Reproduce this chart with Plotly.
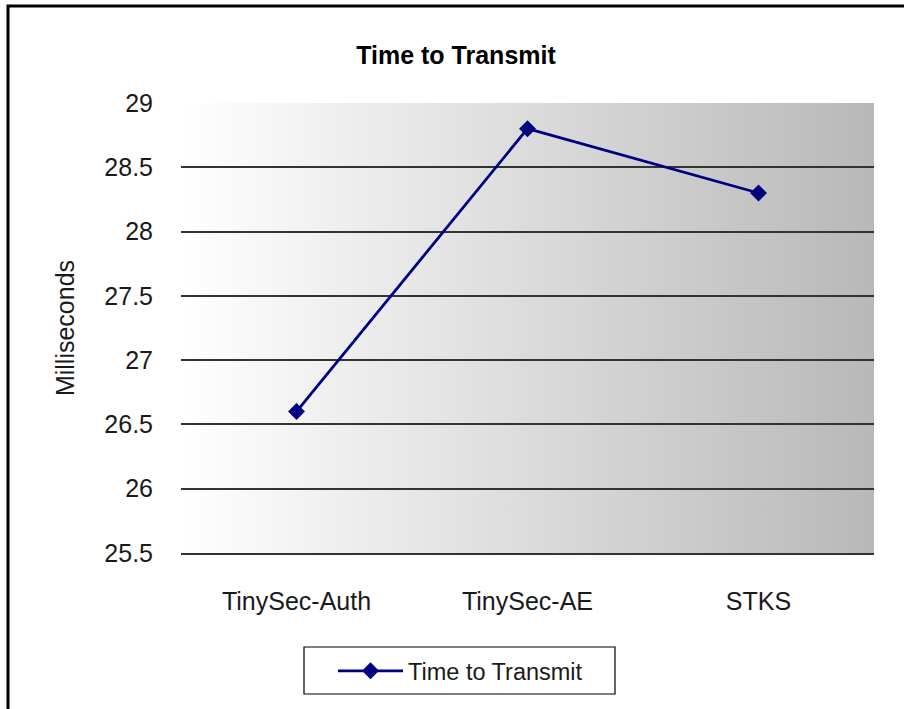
import base64
import plotly.graph_objects as go

categories = ["TinySec-Auth", "TinySec-AE", "STKS"]
values = [26.6, 28.8, 28.3]
series_name = "Time to Transmit"
y_ticks = [25.5, 26, 26.5, 27, 27.5, 28, 28.5, 29]
y_tick_labels = ["25.5", "26", "26.5", "27", "27.5", "28", "28.5", "29"]

W, H = 904, 709
L, R, T, B = 181, 30, 103, 156

svg = ('<svg xmlns="http://www.w3.org/2000/svg" width="100" height="100" preserveAspectRatio="none" viewBox="0 0 100 100">'
       '<defs><linearGradient id="g" x1="0" y1="0" x2="1" y2="0">'
       '<stop offset="0" stop-color="#ffffff"/><stop offset="1" stop-color="#b8b8b8"/>'
       '</linearGradient></defs><rect width="100" height="100" fill="url(#g)"/></svg>')
src = "data:image/svg+xml;base64," + base64.b64encode(svg.encode()).decode()

fig = go.Figure()
fig.add_trace(go.Scatter(
    x=categories, y=values, name=series_name, mode="lines+markers",
    line=dict(color="#000080", width=2.8),
    marker=dict(symbol="diamond", size=13, color="#000080"),
    showlegend=True,
))

pw = W - L - R
ph = H - T - B


def px_x(p):
    return (p - L) / pw


def px_y(p):
    return 1 - (p - T) / ph


fig.update_layout(
    width=W, height=H,
    margin=dict(l=L, r=R, t=T, b=B),
    paper_bgcolor="white",
    plot_bgcolor="rgba(0,0,0,0)",
    font=dict(family="Liberation Sans, Arial, sans-serif", color="#1a1a1a", size=25),
    title=dict(text="<b>Time to Transmit</b>", x=px_x(456), xref="paper", xanchor="center",
               y=1 - 55 / H, yanchor="middle", font=dict(size=25, color="#000000")),
    xaxis=dict(showgrid=False, showline=True, linecolor="#333333", linewidth=1.6,
               zeroline=False, ticks="",
               range=[-0.5, 2.5], tickfont=dict(size=25), ticklabelstandoff=25),
    yaxis=dict(range=[25.5, 29], tickvals=y_ticks, ticktext=y_tick_labels,
               showgrid=True, gridcolor="#333333", gridwidth=1.6, zeroline=False,
               showline=False, ticks="", tickfont=dict(size=25), ticklabelstandoff=27,
               title=dict(text="Milliseconds", font=dict(size=25), standoff=22)),
    legend=dict(orientation="h", x=px_x(333), xanchor="left", xref="paper",
                y=px_y(649), yanchor="top",
                borderwidth=0, bgcolor="rgba(0,0,0,0)",
                font=dict(size=23.5), itemwidth=65),
    images=[dict(source=src, xref="paper", yref="paper", x=0, y=1, sizex=1, sizey=1,
                 sizing="stretch", layer="below", xanchor="left", yanchor="top")],
    shapes=[
        dict(type="rect", xref="paper", yref="paper",
             x0=px_x(8), x1=px_x(915), y0=px_y(715), y1=px_y(6),
             line=dict(color="#000000", width=3), fillcolor="rgba(0,0,0,0)",
             layer="above"),
        dict(type="rect", xref="paper", yref="paper",
             x0=px_x(304), x1=px_x(615), y0=px_y(694), y1=px_y(647),
             line=dict(color="#000000", width=1.2), fillcolor="white",
             layer="below"),
    ],
)

fig.write_html("out.html", config={"displayModeBar": False},
               post_script="document.body.style.margin='0';document.body.style.overflow='hidden';")
